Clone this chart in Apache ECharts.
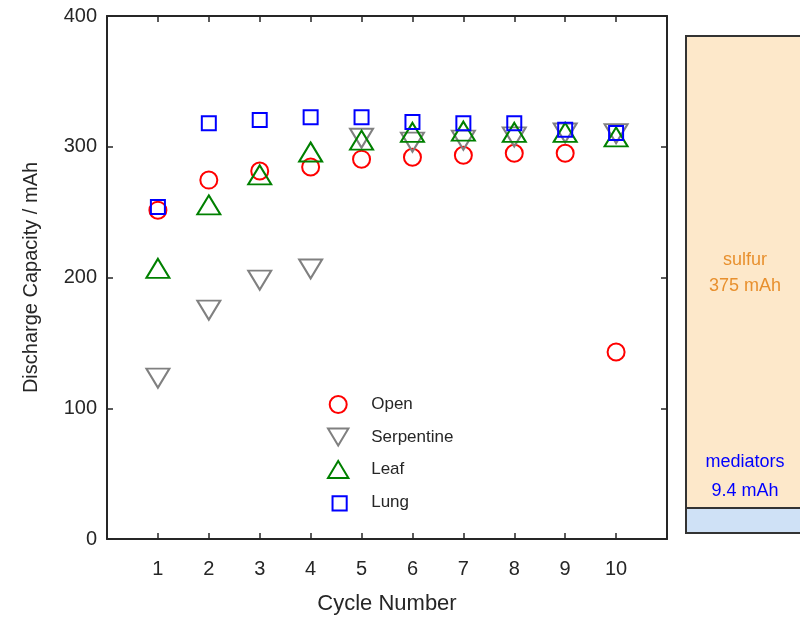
<!DOCTYPE html>
<html>
<head>
<meta charset="utf-8">
<script src="https://cdn.jsdelivr.net/npm/echarts@6/dist/echarts.min.js"></script>
<style>html,body{margin:0;padding:0;background:#fff}#c{width:800px;height:621px}</style>
</head>
<body>
<div id="c"></div>
<script>
var cycles = [1, 2, 3, 4, 5, 6, 7, 8, 9, 10];
var openVals = [251.5, 274.5, 281.5, 284.5, 290.5, 292, 293.5, 295, 295, 143];
var serpentineVals = [123, 175, 198, 206.5, 306.5, 303.5, 305, 307.5, 310.5, 310];
var leafVals = [207, 255.5, 278.5, 296, 305, 311, 312, 311, 311, 307.5];
var lungVals = [254, 318, 320.5, 322.5, 322.5, 319, 318, 318, 313, 310.5];
var yTicks = [0, 100, 200, 300, 400];
var seriesNames = ['Open', 'Serpentine', 'Leaf', 'Lung'];
var sulfurLabel = ['sulfur', '375 mAh'];
var mediatorLabel = ['mediators', '9.4 mAh'];

function pairs(vals) { return cycles.map(function (c, i) { return [c, vals[i]]; }); }

var txt = '#262626';
var font = 'Liberation Sans, Arial, Helvetica, sans-serif';
var downTri = 'path://M0,0 L24,0 L12,20 Z';
var upTri = 'path://M12,0 L24,20 L0,20 Z';
var square = 'path://M0,0 L10,0 L10,10 L0,10 Z';
var chart = echarts.init(document.getElementById('c'), null, { renderer: 'canvas' });

function mk(name, vals, symbol, size, color) {
  return {
    name: name, type: 'scatter', data: pairs(vals),
    symbol: symbol, symbolSize: size,
    itemStyle: { color: 'rgba(0,0,0,0)', borderColor: color, borderWidth: 2, opacity: 1 },
    emphasis: { disabled: true },
    animation: false
  };
}

chart.setOption({
  animation: false,
  textStyle: { fontFamily: font },
  grid: { left: 107, right: 133, top: 16, bottom: 82, containLabel: false },
  legend: {
    orient: 'vertical', left: 322, top: 390,
    itemWidth: 22, itemHeight: 17, itemGap: 13.5,
    symbolKeepAspect: true,
    textStyle: { color: txt, fontSize: 17, fontFamily: font, padding: [0, 0, 0, 17] },
    data: [
      { name: seriesNames[0], icon: 'circle' },
      { name: seriesNames[1], icon: downTri },
      { name: seriesNames[2], icon: upTri },
      { name: seriesNames[3], icon: 'path://M-2,-2 M0,0 L10,0 L10,10 L0,10 Z' }
    ]
  },
  xAxis: [{
    type: 'value', min: 0, max: 11, interval: 1,
    name: 'Cycle Number', nameLocation: 'middle', nameGap: 54,
    nameTextStyle: { color: txt, fontSize: 22, fontFamily: font },
    axisLine: { show: true, onZero: false, lineStyle: { color: txt, width: 2 } },
    axisTick: { inside: true, length: 6, lineStyle: { color: txt, width: 1.5 } },
    axisLabel: { color: txt, fontSize: 20, margin: 20, fontFamily: font,
      formatter: function (v) { return (v >= 1 && v <= 10) ? String(v) : ''; } },
    splitLine: { show: false }
  }, {
    type: 'value', min: 0, max: 11, interval: 1, position: 'top',
    axisLine: { show: true, onZero: false, lineStyle: { color: txt, width: 2 } },
    axisTick: { inside: true, length: 6, lineStyle: { color: txt, width: 1.5 } },
    axisLabel: { show: false }, splitLine: { show: false }
  }],
  yAxis: [{
    type: 'value', min: 0, max: 400, interval: 100,
    name: 'Discharge Capacity / mAh', nameLocation: 'middle', nameGap: 66,
    nameTextStyle: { color: txt, fontSize: 20, fontFamily: font },
    axisLine: { show: true, onZero: false, lineStyle: { color: txt, width: 2 } },
    axisTick: { inside: true, length: 6, lineStyle: { color: txt, width: 1.5 } },
    axisLabel: { color: txt, fontSize: 20, margin: 10, fontFamily: font,
      formatter: function (v) { return yTicks.indexOf(v) >= 0 ? String(v) : ''; } },
    splitLine: { show: false }
  }, {
    type: 'value', min: 0, max: 400, interval: 100, position: 'right',
    axisLine: { show: true, onZero: false, lineStyle: { color: txt, width: 2 } },
    axisTick: { inside: true, length: 6, lineStyle: { color: txt, width: 1.5 } },
    axisLabel: { show: false }, splitLine: { show: false }
  }],
  series: [
    mk(seriesNames[0], openVals, 'circle', 17, '#ff0000'),
    mk(seriesNames[1], serpentineVals, downTri, [23, 19], '#808080'),
    mk(seriesNames[2], leafVals, upTri, [23, 19], '#008000'),
    mk(seriesNames[3], lungVals, square, 14, '#0000ff')
  ],
  graphic: [
    { type: 'rect', shape: { x: 686, y: 36, width: 130, height: 472 },
      style: { fill: '#fde8ca', stroke: '#333', lineWidth: 2 }, z: 1 },
    { type: 'rect', shape: { x: 686, y: 508, width: 130, height: 25 },
      style: { fill: '#cfe1f6', stroke: '#333', lineWidth: 2 }, z: 1 },
    { type: 'text', x: 745, y: 260, z: 2,
      style: { text: sulfurLabel[0], fill: '#e8902e', font: '18px ' + font, textAlign: 'center', textVerticalAlign: 'middle' } },
    { type: 'text', x: 745, y: 286, z: 2,
      style: { text: sulfurLabel[1], fill: '#e8902e', font: '18px ' + font, textAlign: 'center', textVerticalAlign: 'middle' } },
    { type: 'text', x: 745, y: 462, z: 2,
      style: { text: mediatorLabel[0], fill: '#0000ff', font: '18px ' + font, textAlign: 'center', textVerticalAlign: 'middle' } },
    { type: 'text', x: 745, y: 491, z: 2,
      style: { text: mediatorLabel[1], fill: '#0000ff', font: '18px ' + font, textAlign: 'center', textVerticalAlign: 'middle' } }
  ]
});
</script>
</body>
</html>
